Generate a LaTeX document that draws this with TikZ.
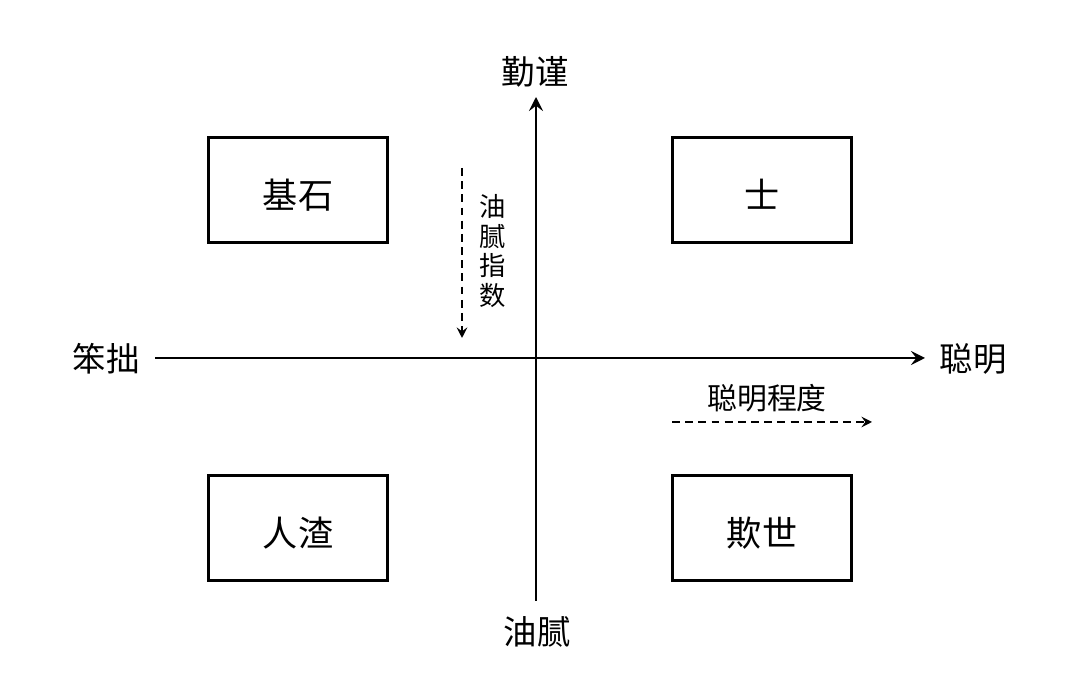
\documentclass[tikz,border=0pt]{standalone}
\usepackage{fontspec}
\setmainfont{Noto Sans CJK SC}
\usepackage{tikz}
\usetikzlibrary{arrows.meta}
\tikzset{
  axis/.style={draw=black, line width=1.5pt, -{Stealth[length=8pt, width=8pt, inset=3pt]}},
  hint/.style={draw=black, line width=1.1pt, dash pattern=on 4.5pt off 3pt, -{Stealth[length=6pt, width=6pt, inset=2.2pt]}},
  quad/.style={draw=black, line width=1.5pt, minimum width=102pt, minimum height=60pt, inner sep=0pt,
    font=\fontsize{20}{24}\selectfont, text height=21pt, text depth=0.2pt},
  lab/.style={font=\fontsize{19}{22}\selectfont, inner sep=1pt},
  small/.style={font=\fontsize{17}{20}\selectfont, inner sep=1pt},
}
\begin{document}
\begin{tikzpicture}[x=0.02cm, y=-0.02cm]
  \useasboundingbox (0,0) rectangle (1080,695);

  % axes
  \coordinate (W) at (155,358);
  \coordinate (E) at (925,358);
  \coordinate (S) at (536,601);
  \coordinate (N) at (536,97);
  \draw[axis] (W) -- (E);
  \draw[axis] (S) -- (N);

  \node[lab] (top) at (535,72) {勤谨};
  \node[lab] (bottom) at (537,632) {油腻};
  \node[lab] (left) at (106,359) {笨拙};
  \node[lab] (right) at (973,359) {聪明};

  % quadrant boxes
  \node[quad] (q1) at (298,190) {基石};
  \node[quad] (q2) at (762,190) {士};
  \node[quad] (q3) at (298,528) {人渣};
  \node[quad] (q4) at (762,528) {欺世};

  % dashed hints
  \coordinate (a1) at (462,168);
  \coordinate (a2) at (462,338);
  \draw[hint] (a1) -- (a2);
  \node[align=center, inner sep=1pt, font=\fontsize{15}{17}\selectfont] (grease) at (493,251) {油\\腻\\指\\数};

  \coordinate (b1) at (672,422);
  \coordinate (b2) at (872,422);
  \draw[hint] (b1) -- (b2);
  \node[small] (smart) at (767,398) {聪明程度};
\end{tikzpicture}
\end{document}
